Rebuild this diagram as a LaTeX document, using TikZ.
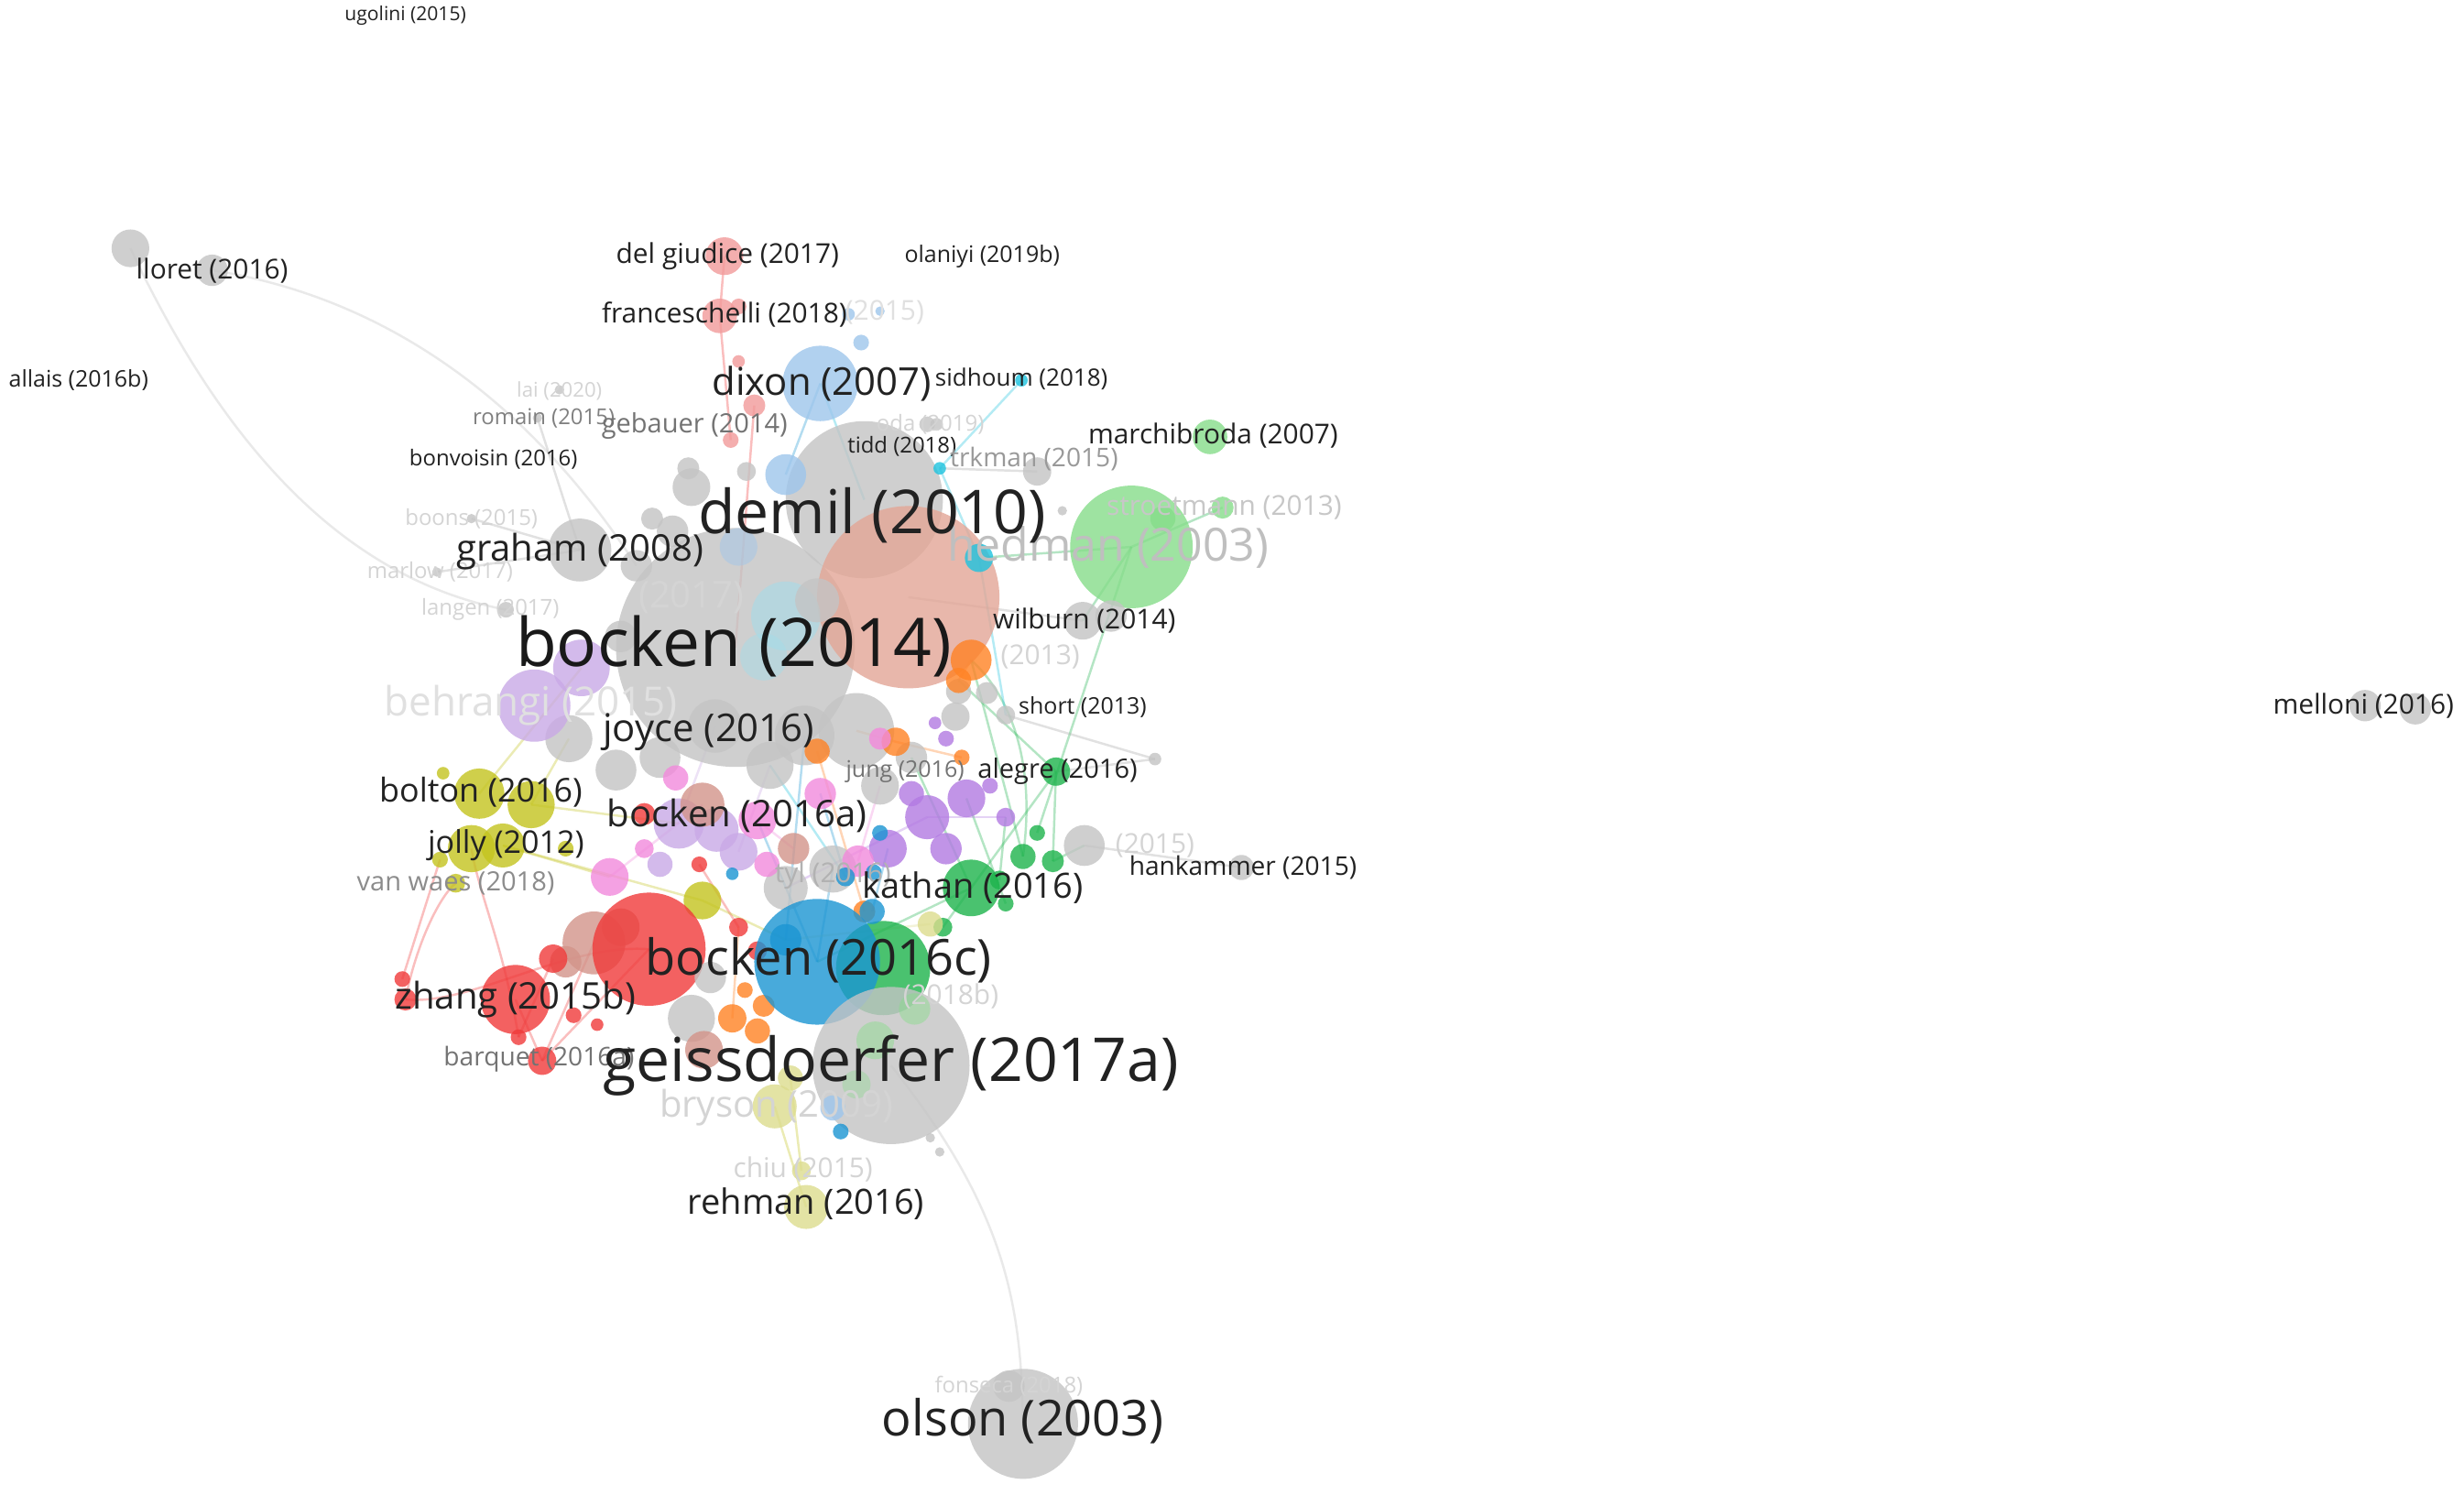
\documentclass[tikz,border=0pt]{standalone}
\usepackage{fontspec}
\setmainfont{Open Sans}
\definecolor{cgrey}{HTML}{C4C4C4}
\definecolor{csalmon}{HTML}{E3A696}
\definecolor{clgreen}{HTML}{86DD8A}
\definecolor{cgreen}{HTML}{1DB34C}
\definecolor{clblue}{HTML}{9EC6EC}
\definecolor{cblue}{HTML}{1B95D3}
\definecolor{cred}{HTML}{F03A3A}
\definecolor{cpink}{HTML}{F28ADC}
\definecolor{clav}{HTML}{C9A9E6}
\definecolor{cpurple}{HTML}{B27AE2}
\definecolor{colive}{HTML}{C4C41E}
\definecolor{cpale}{HTML}{DCDC8E}
\definecolor{corange}{HTML}{FF8224}
\definecolor{ccyan}{HTML}{1EC3DF}
\definecolor{cbrown}{HTML}{D3948A}
\definecolor{crose}{HTML}{F29A9A}
\definecolor{cteal}{HTML}{A6DCE8}
\definecolor{ctext}{HTML}{222222}
\newcommand\fsz[1]{\fontsize{#1}{#1}\selectfont}
\newcommand\B[5]{\coordinate (#1) at (#2,#3);\fill[#5,fill opacity=0.8] (#1) circle (#4);}
\newcommand\C[3]{\coordinate (#1) at (#2,#3);}
\tikzset{
  lab/.style={inner sep=0pt, text=ctext},
  midlab/.style={inner sep=0pt, text=black!55},
  faint/.style={inner sep=0pt, text=black!17},
  edge/.style={line width=0.7pt, draw opacity=0.33},
}
\begin{document}
\begin{tikzpicture}[x=0.017156cm,y=-0.017156cm]
\useasboundingbox[fill=white] (0,0) rectangle (1568,951);
% ---------- node positions (coordinates needed by edges) ----------
\C{g1}{83}{158}\C{g2}{135}{172}\C{g5}{651}{906}\C{g6}{567}{678}\C{g42}{405}{360}\C{g48}{322}{388}
\C{r5}{258}{636}\C{r6}{256}{623}\C{ol6}{290}{562}\C{ol5}{280}{547}\C{r9}{330}{660}\C{ol3}{300}{540}
\C{r1}{413}{604}\C{r2}{328}{636}\C{r4}{345}{675}\C{ro1}{461}{163}\C{ro2}{458}{201}\C{ro5}{465}{280}
\C{pl1}{493}{704}\C{pl2}{513}{768}\C{pl3}{503}{686}\C{pl5}{510}{745}\C{ol1}{305}{505}\C{lv2}{370}{425}
\C{ol2}{338}{512}\C{g19}{362}{470}\C{ol4}{320}{538}\C{p1}{388}{558}
\C{gr2}{651}{545}\C{o1}{618}{420}\C{gr5}{672}{491}\C{gr1}{618}{565}\C{gr4}{660}{530}\C{lg1}{720}{348}
\C{gr3}{670}{548}\C{g26}{690}{538}\C{c1}{623}{355}\C{g24}{689}{395}\C{b1}{520}{612}\C{c2}{650}{242}
\C{c3}{598}{298}\C{lb1}{522}{244}\C{g8}{550}{318}\C{g27}{790}{552}\C{g28}{735}{483}\C{s1}{578}{380}
\C{g37}{530}{553}\C{p3}{482}{522}\C{b2}{555}{580}\C{pu3}{565}{540}\C{o3}{570}{472}\C{o8}{612}{482}
\C{o2}{610}{433}\C{br3}{447}{512}\C{g29}{660}{300}\C{lg2}{770}{278}\C{lg3}{778}{323}\C{g9}{369}{350}
\C{g46}{300}{330}\C{g47}{278}{364}\C{g50}{342}{266}\C{g7}{468}{412}\C{pu1}{590}{520}\C{pu6}{640}{520}
\C{gr7}{636}{560}\C{o4}{466}{648}\C{r13}{470}{590}\C{ol7}{447}{573}\C{g36}{500}{565}\C{g16}{455}{462}
\C{lv3}{432}{524}\C{b7}{500}{598}\C{g15}{512}{468}\C{br4}{505}{540}\C{pl4}{592}{588}\C{g20}{545}{465}
\C{g41}{640}{455}\C{gr9}{600}{590}\C{r3}{352}{610}\C{br1}{378}{600}\C{lb2}{500}{302}\C{ro4}{480}{258}
\C{pu2}{615}{508}\C{p4}{522}{505}\C{p5}{546}{548}\C{b3}{538}{558}\C{o7}{550}{580}\C{g38}{560}{500}
\C{g14}{490}{487}\C{lv5}{470}{542}\C{r12}{445}{550}\C{gr8}{640}{575}\C{g39}{580}{482}\C{o10}{520}{478}
% ---------- connectors ----------
\draw[edge,black!25] (g2) .. controls (250,190) and (340,260) .. (g42);
\draw[edge,black!25] (g1) .. controls (150,300) and (230,370) .. (g48);
\draw[edge,black!25] (g6) .. controls (640,770) and (650,830) .. (g5);
\draw[edge,cred] (r5) .. controls (265,600) and (280,570) .. (ol6);
\draw[edge,cred] (r9) .. controls (320,600) and (305,570) .. (ol3);
\draw[edge,cred] (r5) .. controls (300,640) and (360,600) .. (r1);
\draw[edge,cred] (r6) -- (ol5);
\draw[edge,cred] (r2) -- (r4);
\draw[edge,cred] (r4) -- (r1);
\draw[edge,cred] (r4) -- (br1);
\draw[edge,cred] (r9) -- (r3);
\draw[edge,cred] (ro1) -- (ro2);
\draw[edge,cred] (ro2) -- (ro5);
\draw[edge,cred] (ro4) -- (g7);
\draw[edge,cred] (r12) -- (r13);
\draw[edge,colive] (pl1) -- (pl2);
\draw[edge,colive] (pl3) -- (pl5);
\draw[edge,colive] (ol1) -- (lv2);
\draw[edge,colive] (ol2) -- (g19);
\draw[edge,colive] (ol4) -- (p1);
\draw[edge,colive] (ol2) -- (lv3);
\draw[edge,colive] (ol4) -- (ol7);
\draw[edge,colive] (ol7) -- (b7);
\draw[edge,cgreen] (gr2) -- (o1);
\draw[edge,cgreen] (gr5) -- (gr1);
\draw[edge,cgreen] (gr4) -- (lg1);
\draw[edge,cgreen] (gr3) -- (g26);
\draw[edge,cgreen] (lg1) -- (c1);
\draw[edge,cgreen] (lg1) -- (g24);
\draw[edge,cgreen] (gr1) -- (b1);
\draw[edge,cgreen] (gr5) -- (o2);
\draw[edge,cgreen] (gr7) -- (pu6);
\draw[edge,cgreen] (gr2) .. controls (660,480) and (640,440) .. (o1);
\draw[edge,cgreen] (lg1) -- (lg3);
\draw[edge,cgreen] (gr9) -- (gr1);
\draw[edge,cgreen] (gr8) -- (pu2);
\draw[edge,cgreen] (gr3) -- (gr5);
\draw[edge,cgreen] (gr1) -- (g39);
\draw[edge,ccyan] (c2) -- (c3);
\draw[edge,ccyan] (c3) -- (c1);
\draw[edge,ccyan] (lb1) -- (g8);
\draw[edge,ccyan] (c1) -- (g41);
\draw[edge,ccyan] (b3) -- (g14);
\draw[edge,black!35] (g27) -- (g26);
\draw[edge,black!35] (g28) -- (gr5);
\draw[edge,black!35] (g24) -- (s1);
\draw[edge,black!35] (g29) -- (c3);
\draw[edge,black!35] (g9) -- (g50);
\draw[edge,black!35] (g9) -- (g46);
\draw[edge,black!35] (g9) -- (g47);
\draw[edge,black!35] (g41) -- (g28);
\draw[edge,cblue] (b1) -- (g37);
\draw[edge,cblue] (b1) -- (p3);
\draw[edge,cblue] (b2) -- (pu3);
\draw[edge,cblue] (b7) -- (g15);
\draw[edge,cblue] (lb2) -- (lb1);
\draw[edge,cblue] (b3) -- (p4);
\draw[edge,corange] (o3) -- (o8);
\draw[edge,corange] (o1) -- (o2);
\draw[edge,corange] (o4) -- (r13);
\draw[edge,corange] (o3) -- (g20);
\draw[edge,corange] (o7) -- (o10);
\draw[edge,cpink] (p1) -- (br3);
\draw[edge,cpink] (p3) -- (br4);
\draw[edge,cpink] (p5) -- (g38);
\draw[edge,cpurple] (pu1) -- (pu6);
\draw[edge,cpurple] (pu1) -- (g36);
\draw[edge,cpale] (pl4) -- (b7);
\draw[edge,clav] (lv3) -- (g16);
\draw[edge,clav] (lv5) -- (g14);
% ---------- bubbles ----------
% grey
\B{gb1}{83}{158}{12}{cgrey}
\B{gb2}{135}{172}{10}{cgrey}
\B{gb3}{1505}{449}{10}{cgrey}
\B{gb4}{1537}{451}{10}{cgrey}
\B{gb5}{651}{906}{35}{cgrey}
\B{gb52}{642}{882}{10}{cgrey}
\B{gb7}{468}{412}{76}{cgrey}
\B{gb8}{550}{318}{50}{cgrey}
\B{gb9}{369}{350}{20}{cgrey}
\B{gb10}{440}{310}{12}{cgrey}
\B{gb11}{428}{338}{10}{cgrey}
\B{gb12}{415}{330}{7}{cgrey}
\B{gb13}{438}{298}{7}{cgrey}
\B{gb42}{405}{360}{10}{cgrey}
\B{gb43}{395}{405}{10}{cgrey}
\B{gb45}{475}{300}{6}{cgrey}
\B{gb46}{300}{330}{3}{cgrey}
\B{gb47}{278}{364}{3}{cgrey}
\B{gb48}{322}{388}{5}{cgrey}
\B{gb49}{356}{248}{3}{cgrey}
\B{gb50}{342}{266}{3}{cgrey}
\B{gb51}{590}{270}{5}{cgrey}
% salmon / teal / light blue
\B{sb1}{578}{380}{58}{csalmon}
\fill[cteal,fill opacity=0.6] (500,392) circle (22);
\fill[cteal,fill opacity=0.5] (486,418) circle (15);
\B{lbb1}{522}{244}{24}{clblue}
\B{lbb2}{500}{302}{13}{clblue}
\fill[clblue,fill opacity=0.45] (470,348) circle (12);
\B{lbb4}{548}{218}{5}{clblue}
\B{lbb5}{540}{200}{4}{clblue}
\B{lbb7}{560}{198}{3}{clblue}
% light green
\B{lgb1}{720}{348}{39}{clgreen}
\B{lgb6}{740}{330}{8}{clgreen}
\B{lgb2}{770}{278}{11}{clgreen}
\B{lgb3}{778}{323}{7}{clgreen}
% cyan
\B{cb1}{623}{355}{9}{ccyan}
\B{cb2}{650}{242}{4}{ccyan}
\B{cb3}{598}{298}{4}{ccyan}
% rose
\B{rob1}{461}{163}{12}{crose}
\B{rob2}{458}{201}{11}{crose}
\B{rob3}{470}{195}{5}{crose}
\B{rob4}{480}{258}{7}{crose}
\B{rob5}{465}{280}{5}{crose}
\B{rob6}{470}{230}{4}{crose}
% more grey in cluster
\B{gb14}{490}{487}{15}{cgrey}
\B{gb15}{512}{468}{19}{cgrey}
\B{gb16}{455}{462}{17}{cgrey}
\B{gb17}{420}{482}{13}{cgrey}
\B{gb18}{392}{490}{13}{cgrey}
\B{gb19}{362}{470}{15}{cgrey}
\B{gb20}{545}{465}{24}{cgrey}
\B{gb21}{610}{440}{8}{cgrey}
\B{gb22}{628}{441}{7}{cgrey}
\B{gb23}{608}{456}{9}{cgrey}
\B{gb24}{689}{395}{12}{cgrey}
\B{gb25}{707}{392}{10}{cgrey}
\B{gb26}{690}{538}{13}{cgrey}
\B{gb27}{790}{552}{8}{cgrey}
\B{gb28}{735}{483}{4}{cgrey}
\B{gb29}{660}{300}{9}{cgrey}
\B{gb30}{596}{270}{4}{cgrey}
\B{gb31}{676}{325}{3}{cgrey}
\B{gb36}{500}{565}{14}{cgrey}
\B{gb37}{530}{553}{15}{cgrey}
\B{gb38}{560}{500}{12}{cgrey}
\B{gb39}{580}{482}{10}{cgrey}
\B{gb40}{520}{382}{14}{cgrey}
\B{gb41}{640}{455}{6}{cgrey}
% lavender / purple
\B{lvb1}{340}{449}{23}{clav}
\B{lvb2}{370}{425}{18}{clav}
\B{lvb3}{432}{524}{16}{clav}
\B{lvb4}{456}{528}{14}{clav}
\B{lvb5}{470}{542}{12}{clav}
\B{lvb6}{420}{550}{8}{clav}
\B{pub1}{590}{520}{14}{cpurple}
\B{pub2}{615}{508}{12}{cpurple}
\B{pub3}{565}{540}{12}{cpurple}
\B{pub4}{602}{540}{10}{cpurple}
\B{pub5}{580}{505}{8}{cpurple}
\B{pub6}{640}{520}{6}{cpurple}
\B{pub7}{630}{500}{5}{cpurple}
\B{pub8}{602}{470}{5}{cpurple}
\B{pub9}{595}{460}{4}{cpurple}
% orange
\B{ob1}{618}{420}{13}{corange}
\B{ob2}{610}{433}{8}{corange}
\B{ob3}{570}{472}{9}{corange}
\B{ob10}{520}{478}{8}{corange}
\B{ob8}{612}{482}{5}{corange}
\B{ob7}{550}{580}{7}{corange}
% pink / brown
\B{pb1}{388}{558}{12}{cpink}
\B{pb2}{430}{495}{8}{cpink}
\B{pb3}{482}{522}{12}{cpink}
\B{pb4}{522}{505}{10}{cpink}
\B{pb5}{546}{548}{10}{cpink}
\B{pb6}{488}{550}{8}{cpink}
\B{pb7}{410}{540}{6}{cpink}
\B{pb8}{560}{470}{7}{cpink}
\B{brb3}{447}{512}{14}{cbrown}
\B{brb4}{505}{540}{10}{cbrown}
% olive
\B{olb1}{305}{505}{16}{colive}
\B{olb2}{338}{512}{15}{colive}
\B{olb3}{300}{540}{15}{colive}
\B{olb4}{320}{538}{14}{colive}
\B{olb5}{280}{547}{5}{colive}
\B{olb6}{290}{562}{6}{colive}
\B{olb7}{447}{573}{12}{colive}
\B{olb8}{282}{492}{4}{colive}
\B{olb9}{360}{540}{5}{colive}
% red / brown lower-left
\B{brb1}{378}{600}{20}{cbrown}
\B{brb2}{360}{612}{10}{cbrown}
\B{brb6}{395}{590}{12}{cbrown}
\B{rb1}{413}{604}{36}{cred}
\B{rb2}{328}{636}{22}{cred}
\B{rb3}{352}{610}{9}{cred}
\B{rb4}{345}{675}{9}{cred}
\B{rb5}{258}{636}{7}{cred}
\B{rb6}{256}{623}{5}{cred}
\B{rb7}{410}{518}{7}{cred}
\B{rb8}{482}{605}{6}{cred}
\B{rb9}{330}{660}{5}{cred}
\B{rb10}{365}{646}{5}{cred}
\B{rb11}{380}{652}{4}{cred}
\B{rb12}{445}{550}{5}{cred}
\B{rb13}{470}{590}{6}{cred}
\B{gb32}{440}{648}{15}{cgrey}
\B{gb33}{452}{622}{10}{cgrey}
\B{brb5}{448}{668}{12}{cbrown}
\B{ob4}{466}{648}{9}{corange}
\B{ob5}{482}{656}{8}{corange}
\B{ob6}{486}{640}{7}{corange}
\B{ob9}{474}{630}{5}{corange}
% green / blue (bocken 2016c, kathan)
\B{grb6}{562}{616}{30}{cgreen}
\B{bb1}{520}{612}{40}{cblue}
\B{bb7}{500}{598}{10}{cblue}
\B{bb2}{555}{580}{8}{cblue}
\B{bb3}{538}{558}{6}{cblue}
\B{bb4}{556}{555}{5}{cblue}
\B{bb6}{466}{556}{4}{cblue}
\B{bb8}{560}{530}{5}{cblue}
\B{grb1}{618}{565}{18}{cgreen}
\B{grb2}{651}{545}{8}{cgreen}
\B{grb3}{670}{548}{7}{cgreen}
\B{grb4}{660}{530}{5}{cgreen}
\B{grb5}{672}{491}{9}{cgreen}
\B{grb7}{636}{560}{6}{cgreen}
\B{grb8}{640}{575}{5}{cgreen}
\B{grb9}{600}{590}{6}{cgreen}
\B{plb4}{592}{588}{8}{cpale}
% geissdoerfer and below
\B{gb6}{567}{678}{50}{cgrey}
\fill[clgreen,fill opacity=0.45] (557,662) circle (12);
\fill[clgreen,fill opacity=0.45] (582,642) circle (10);
\fill[clgreen,fill opacity=0.35] (545,690) circle (9);
\B{gb34}{592}{724}{3}{cgrey}
\B{gb35}{598}{733}{3}{cgrey}
\B{lbb6}{530}{705}{8}{clblue}
\B{bb5}{535}{720}{5}{cblue}
\B{plb3}{503}{686}{8}{cpale}
\B{plb1}{493}{704}{14}{cpale}
\B{plb5}{510}{745}{6}{cpale}
\B{plb2}{513}{768}{14}{cpale}
% ---------- labels ----------
\node[lab,font=\fsz{6pt}] (t1) at (258,10) {ugolini (2015)};
\node[lab,font=\fsz{8.5pt}] (t2) at (135,172) {lloret (2016)};
\node[lab,font=\fsz{7.1pt}] (t3) at (50,242) {allais (2016b)};
\node[lab,font=\fsz{8.5pt}] (t4) at (463,163) {del giudice (2017)};
\node[lab,font=\fsz{7.1pt}] (t5) at (625,163) {olaniyi (2019b)};
\node[lab,font=\fsz{8.5pt}] (t6) at (461,200) {franceschelli (2018)};
\node[faint,text=black!12,font=\fsz{8.5pt}] (t7) at (563,199) {(2015)};
\node[lab,font=\fsz{11.9pt}] (t8) at (523,244) {dixon (2007)};
\node[lab,font=\fsz{7.4pt}] (t9) at (650,241) {sidhoum (2018)};
\node[faint,font=\fsz{6.3pt}] (t10) at (356,249) {lai (2020)};
\node[midlab,text=black!50,font=\fsz{6.8pt}] (t11) at (346,266) {romain (2015)};
\node[midlab,font=\fsz{8.25pt}] (t12) at (442,271) {gebauer (2014)};
\node[faint,font=\fsz{6.8pt}] (t13) at (592,270) {oda (2019)};
\node[lab,font=\fsz{6.8pt}] (t14) at (314,292) {bonvoisin (2016)};
\node[lab,font=\fsz{6.8pt}] (t15) at (574,284) {tidd (2018)};
\node[midlab,text=black!40,font=\fsz{8pt}] (t16) at (658,292) {trkman (2015)};
\node[lab,font=\fsz{8.5pt}] (t17) at (772,277) {marchibroda (2007)};
\node[faint,text=black!22,font=\fsz{8.5pt}] (t18) at (779,323) {stroetmann (2013)};
\node[faint,font=\fsz{6.8pt}] (t49) at (300,330) {boons (2015)};
\node[faint,font=\fsz{6.8pt}] (t50) at (280,364) {marlow (2017)};
\node[faint,font=\fsz{6.8pt}] (t51) at (312,388) {langen (2017)};
\node[faint,font=\fsz{11.4pt}] (t52) at (440,380) {(2017)};
\node[faint,text=black!25,font=\fsz{14.2pt}] (t21) at (705,348) {hedman (2003)};
\node[lab,font=\fsz{18.8pt}] (t19) at (555,328) {demil (2010)};
\node[lab,font=\fsz{11.4pt}] (t20) at (369,351) {graham (2008)};
\node[lab,text=black!90,font=\fsz{20.8pt}] (t22) at (467,411) {bocken (2014)};
\node[lab,font=\fsz{8.5pt}] (t23) at (690,395) {wilburn (2014)};
\node[faint,font=\fsz{8.5pt}] (t24) at (662,418) {(2013)};
\node[faint,text=black!12,font=\fsz{12.5pt}] (t25) at (338,449) {behrangi (2015)};
\node[lab,font=\fsz{7.1pt}] (t26) at (689,450) {short (2013)};
\node[lab,font=\fsz{11.9pt}] (t27) at (451,466) {joyce (2016)};
\node[midlab,font=\fsz{7.1pt}] (t28) at (576,491) {jung (2016)};
\node[lab,font=\fsz{8.25pt}] (t29) at (673,491) {alegre (2016)};
\node[lab,font=\fsz{10.2pt}] (t30) at (306,504) {bolton (2016)};
\node[lab,font=\fsz{11.4pt}] (t31) at (469,519) {bocken (2016a)};
\node[lab,font=\fsz{9.7pt}] (t32) at (322,538) {jolly (2012)};
\node[midlab,text=black!45,font=\fsz{8.25pt}] (t33) at (290,562) {van waes (2018)};
\node[faint,text=black!30,font=\fsz{8.5pt}] (t34) at (530,557) {tyl (2016)};
\node[faint,font=\fsz{8.5pt}] (t37) at (735,538) {(2015)};
\node[lab,font=\fsz{10.8pt}] (t35) at (619,565) {kathan (2016)};
\node[lab,font=\fsz{8pt}] (t36) at (791,552) {hankammer (2015)};
\node[faint,font=\fsz{8.5pt}] (t48) at (605,634) {(2018b)};
\node[lab,font=\fsz{15.4pt}] (t38) at (521,611) {bocken (2016c)};
\node[lab,font=\fsz{11.4pt}] (t39) at (328,636) {zhang (2015b)};
\node[midlab,font=\fsz{8pt}] (t40) at (343,674) {barquet (2016a)};
\node[faint,font=\fsz{11.4pt}] (t42) at (494,705) {bryson (2009)};
\node[lab,font=\fsz{18.8pt}] (t41) at (567,678) {geissdoerfer (2017a)};
\node[faint,font=\fsz{8.5pt}] (t43) at (511,744) {chiu (2015)};
\node[lab,font=\fsz{10.8pt}] (t44) at (513,766) {rehman (2016)};
\node[faint,font=\fsz{6.8pt}] (t45) at (642,882) {fonseca (2018)};
\node[lab,font=\fsz{15.4pt}] (t46) at (651,904) {olson (2003)};
\node[lab,font=\fsz{8.5pt}] (t47) at (1504,449) {melloni (2016)};
\end{tikzpicture}
\end{document}
